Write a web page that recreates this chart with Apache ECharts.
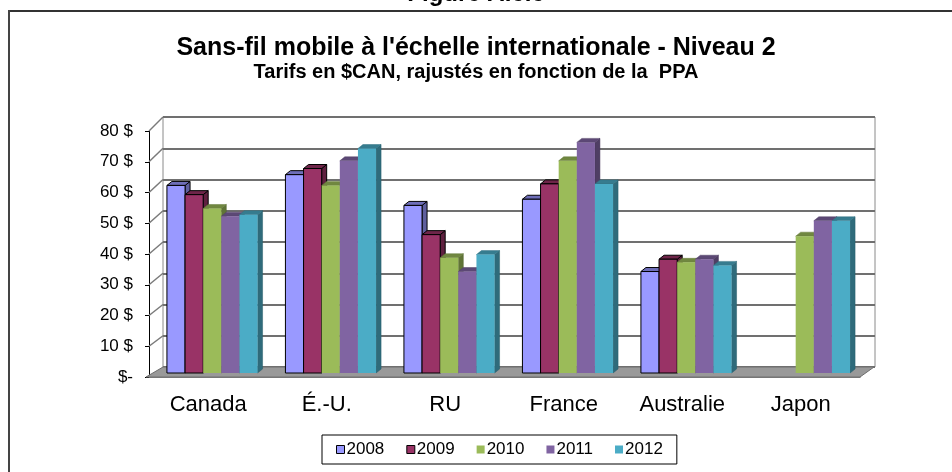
<!DOCTYPE html>
<html>
<head>
<meta charset="utf-8">
<script src="https://cdn.jsdelivr.net/npm/echarts@6/dist/echarts.min.js"></script>
<style>
  html, body { margin: 0; padding: 0; background: #fff; }
  #chart { width: 952px; height: 472px; }
</style>
</head>
<body>
<div id="chart"></div>
<script>
// pays
const categories = ['Canada', 'É.-U.', 'RU', 'France', 'Australie', 'Japon']
const years = ['2008', '2009', '2010', '2011', '2012']
// tarifs en $CAN (PPA)
const v2008 = [61, 64.5, 54.5, 56.5, 33, null]
const v2009 = [58, 66.5, 45, 61.5, 37, null]
const v2010 = [53.5, 61, 37.5, 69, 36, 44.5]
const v2011 = [51, 69, 33, 75, 37, 49.5]
const v2012 = [51.5, 73, 38.5, 61.5, 35, 49.5]
const yTicks = [0, 10, 20, 30, 40, 50, 60, 70, 80]

const values = [v2008, v2009, v2010, v2011, v2012]
const colors = ['#9999FF', '#993366', '#9BBB59', '#8064A2', '#4BACC6']
const borders = ['#000000', '#000000', null, null, null]

// effet 3D
const WALL_DX = 14
const WALL_DY = 10
const BAR_DX = 4
const BAR_DY = -4
const DEPTH_X = 5
const DEPTH_Y = 4
const BAR_RATIO = 0.153

function shade (hex, k) {
  let n = parseInt(hex.slice(1), 16)
  let r = Math.round(((n >> 16) & 255) * k)
  let g = Math.round(((n >> 8) & 255) * k)
  let b = Math.round((n & 255) * k)
  return 'rgb(' + r + ',' + g + ',' + b + ')'
}

// sol + mur gauche
function renderFloor (params, api) {
  let cs = params.coordSys
  let x0 = cs.x
  let x1 = cs.x + cs.width
  let y0 = cs.y + cs.height
  let children = [{
    type: 'polygon',
    shape: {points: [[x0 - 3, y0], [x1, y0], [x1 + WALL_DX, y0 - WALL_DY], [x0 + WALL_DX, y0 - WALL_DY]]},
    style: {fill: '#999999', stroke: '#6e6e6e', lineWidth: 1}
  }]
  yTicks.forEach(function (v) {
    if (v === 0) return
    let p = api.coord([0, v])
    let dy = WALL_DY + 4 * v / 80
    children.push({
      type: 'line',
      shape: {x1: x0, y1: p[1], x2: x0 + WALL_DX, y2: p[1] - dy},
      style: {stroke: '#7a7a7a', lineWidth: 1.5}
    })
  })
  return {type: 'group', children: children}
}

function makeBarRenderer (i) {
  return function (params, api) {
    let val = api.value(1)
    if (val == null || isNaN(val)) return null
    let idx = api.value(0)
    let base = api.coord([idx, 0])
    let top = api.coord([idx, val])
    let band = api.size([1, 0])[0]
    let bw = band * BAR_RATIO
    let x = base[0] - 2.5 * bw + i * bw + BAR_DX
    let yb = base[1] + BAR_DY
    let yt = top[1] + BAR_DY
    let c = colors[i]
    let bc = borders[i]
    return {
      type: 'group',
      children: [
        {
          type: 'polygon',
          shape: {points: [[x + bw, yt], [x + bw + DEPTH_X, yt - DEPTH_Y], [x + bw + DEPTH_X, yb - DEPTH_Y], [x + bw, yb]]},
          style: {fill: shade(c, 0.62), stroke: bc || shade(c, 0.55), lineWidth: bc ? 1 : 0.5}
        },
        {
          type: 'polygon',
          shape: {points: [[x, yt], [x + DEPTH_X, yt - DEPTH_Y], [x + bw + DEPTH_X, yt - DEPTH_Y], [x + bw, yt]]},
          style: {fill: shade(c, 0.72), stroke: bc || shade(c, 0.65), lineWidth: bc ? 1 : 0.5}
        },
        {
          type: 'rect',
          shape: {x: x, y: yt, width: bw, height: yb - yt},
          style: {fill: c, stroke: bc || c, lineWidth: bc ? 1 : 0}
        }
      ]
    }
  }
}

let series = [{
  type: 'custom',
  name: 'sol',
  xAxisIndex: 0,
  yAxisIndex: 0,
  z: 1,
  silent: true,
  renderItem: renderFloor,
  data: [[0, 0]]
}]
years.forEach(function (y, i) {
  series.push({
    type: 'custom',
    name: y,
    xAxisIndex: 0,
    yAxisIndex: 0,
    z: 3,
    itemStyle: {color: colors[i]},
    encode: {x: 0, y: 1},
    renderItem: makeBarRenderer(i),
    data: categories.map(function (c, k) { return [k, values[i][k]] })
  })
})

const option = {
  animation: false,
  backgroundColor: '#ffffff',
  textStyle: {fontFamily: 'Liberation Sans, Arial, sans-serif'},
  title: {
    text: "Sans-fil mobile à l'échelle internationale - Niveau 2",
    subtext: 'Tarifs en $CAN, rajustés en fonction de la  PPA',
    left: 'center',
    top: 31,
    itemGap: 1,
    textStyle: {fontSize: 25, fontWeight: 'bold', color: '#000'},
    subtextStyle: {fontSize: 20, fontWeight: 'bold', color: '#000'}
  },
  graphic: [
    {type: 'line', shape: {x1: 8, y1: 11, x2: 952, y2: 11}, style: {stroke: '#333', lineWidth: 2}},
    {type: 'line', shape: {x1: 9, y1: 10, x2: 9, y2: 472}, style: {stroke: '#444', lineWidth: 2}},
    {type: 'text', left: 'center', top: -18, style: {text: 'Figure A.6.6', font: 'bold 24px Liberation Sans, Arial', fill: '#000'}}
  ],
  legend: {
    data: years.map(function (y, i) {
      return {name: y, itemStyle: {color: colors[i], borderColor: borders[i] || colors[i], borderWidth: borders[i] ? 1 : 0}}
    }),
    left: 322,
    top: 435,
    icon: 'rect',
    itemWidth: 8,
    itemHeight: 8,
    itemGap: 22,
    padding: [6, 14, 6, 14],
    borderColor: '#000',
    borderWidth: 1,
    textStyle: {fontSize: 17, color: '#000', padding: [0, 0, 0, -3]}
  },
  grid: [
    {left: 149, right: 92, top: 131, bottom: 95},
    {left: 163, right: 77, top: 117, bottom: 105, show: true, borderColor: '#8a8a8a', borderWidth: 1}
  ],
  xAxis: [
    {
      type: 'category',
      gridIndex: 0,
      data: categories,
      axisLine: {lineStyle: {color: '#555', width: 1.5}},
      axisTick: {length: 6, lineStyle: {color: '#333'}},
      axisLabel: {fontSize: 22, color: '#000', margin: 17}
    },
    {
      type: 'category',
      gridIndex: 1,
      data: categories,
      show: false
    }
  ],
  yAxis: [
    {
      type: 'value',
      gridIndex: 0,
      min: 0,
      max: 80,
      interval: 10,
      axisLine: {show: true, lineStyle: {color: '#000', width: 1}},
      axisTick: {show: true, length: 4, lineStyle: {color: '#000'}},
      splitLine: {show: false},
      axisLabel: {
        fontSize: 17,
        color: '#000',
        margin: 16,
        formatter: function (v) { return v === 0 ? '$-' : v + ' $' }
      }
    },
    {
      type: 'value',
      gridIndex: 1,
      min: 0,
      max: 80,
      interval: 10,
      axisLine: {show: false},
      axisTick: {show: false},
      axisLabel: {show: false},
      splitLine: {show: true, lineStyle: {color: '#707070', width: 2}}
    }
  ],
  series: series
}

let myChart = echarts.init(document.getElementById('chart'))
myChart.setOption(option)
</script>
</body>
</html>
